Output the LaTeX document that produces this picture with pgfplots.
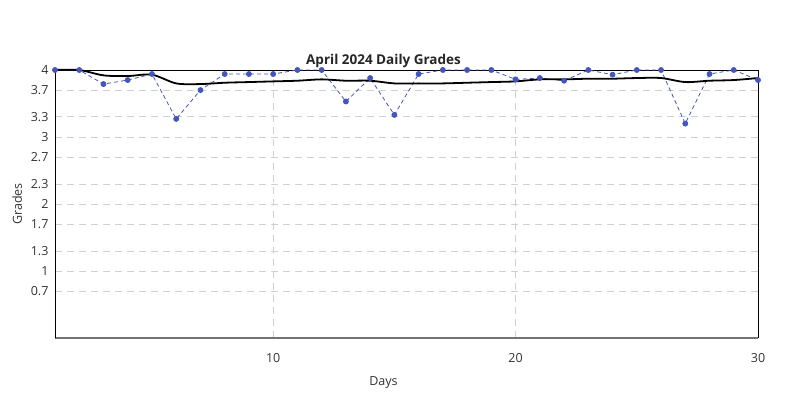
\documentclass[border=0pt]{standalone}
\usepackage{fontspec}
\setmainfont{Open Sans}
\usepackage{pgfplots}
\pgfplotsset{compat=1.18}
\definecolor{ptblue}{RGB}{68,85,187}
\definecolor{gridgray}{RGB}{205,208,212}
\begin{document}
\begin{tikzpicture}[x=1pt,y=1pt]
\useasboundingbox (0,0) rectangle (787,394);
\begin{axis}[
  at={(55pt,56pt)}, anchor=south west,
  scale only axis, width=703pt, height=268pt,
  xmin=1, xmax=30, ymin=0, ymax=4,
  xtick={10,20,30},
  ytick={0.7,1,1.3,1.7,2,2.3,2.7,3,3.3,3.7,4},
  yticklabels={0.7,1,1.3,1.7,2,2.3,2.7,3,3.3,3.7,4},
  xticklabels={10,20,30},
  major tick length=0pt,
  grid=major,
  grid style={gridgray, dash pattern=on 7pt off 5pt, line width=0.8pt},
  axis line style={black, line width=0.8pt},
  axis x line*=bottom,
  x axis line style={black!55, line width=1.2pt},
  every tick label/.style={font=\fontsize{12.5}{14}\selectfont, text=black!80},
  /pgf/number format/assume math mode=true,
  xticklabel style={yshift=-12pt},
  yticklabel style={xshift=-3pt},
  xlabel={Days}, ylabel={Grades},
  label style={font=\fontsize{12.5}{14}\selectfont, text=black!80},
  xlabel style={yshift=-7pt, xshift=-23pt},
  ylabel style={yshift=2pt},
  title={\bfseries April 2024 Daily Grades},
  title style={font=\fontsize{13.5}{15}\selectfont, text=black!85, yshift=-7pt, xshift=-23pt},
  clip=false,
]
\draw[black, line width=0.8pt] (axis cs:1,4) -- (axis cs:30,4) -- (axis cs:30,0);
\draw[black, line width=0.8pt] (axis cs:1,0) -- (axis cs:1,4);
\addplot[ptblue, line width=0.8pt, dash pattern=on 4pt off 3pt, mark=*, mark size=2.5pt, mark options={solid, fill=ptblue, draw=ptblue}]
coordinates {
(1,4.0)(2,4.0)(3,3.79)(4,3.85)(5,3.94)(6,3.27)(7,3.7)(8,3.94)(9,3.94)(10,3.94)
(11,4.0)(12,4.0)(13,3.53)(14,3.88)(15,3.33)(16,3.94)(17,4.0)(18,4.0)(19,4.0)(20,3.86)
(21,3.88)(22,3.84)(23,4.0)(24,3.93)(25,4.0)(26,4.0)(27,3.2)(28,3.94)(29,4.0)(30,3.85)
};
\addplot[black, line width=1.8pt, smooth, tension=0.5] coordinates {
(1,4.0)(2,4.0)(3,3.92)(4,3.91)(5,3.93)(6,3.80)(7,3.79)(8,3.81)(9,3.82)(10,3.83)
(11,3.84)(12,3.86)(13,3.84)(14,3.84)(15,3.80)(16,3.80)(17,3.80)(18,3.81)(19,3.82)(20,3.83)
(21,3.86)(22,3.86)(23,3.87)(24,3.87)(25,3.88)(26,3.88)(27,3.82)(28,3.84)(29,3.85)(30,3.88)
};
\end{axis}
\end{tikzpicture}
\end{document}
